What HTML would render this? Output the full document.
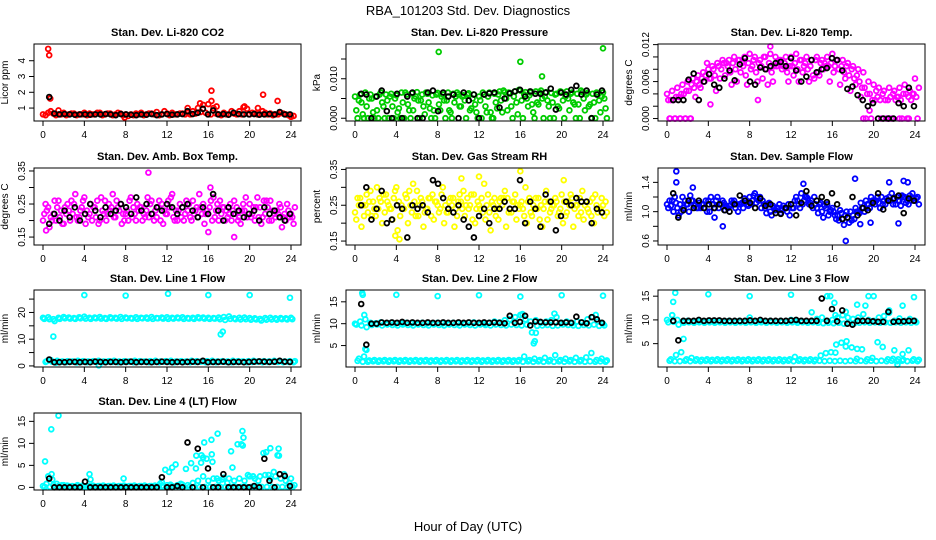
<!DOCTYPE html>
<html><head><meta charset="utf-8"><style>
html,body{margin:0;padding:0;background:#fff;}
svg{display:block;font-family:"Liberation Sans",sans-serif;}
</style></head><body>
<svg id="chart" width="936" height="540" viewBox="0 0 936 540" xmlns="http://www.w3.org/2000/svg">
<text x="468" y="15" text-anchor="middle" font-size="13">RBA_101203  Std. Dev. Diagnostics</text>
<text x="468" y="531" text-anchor="middle" font-size="13">Hour of Day (UTC)</text>
</svg>
<script>
const xTicks=[0,4,8,12,16,20,24];
const co2A=[0.6,0.7,0.65,0.6,0.7,0.6,0.65,0.6,0.7,0.65,0.6,0.7,0.6,0.65,0.6,0.65,0.6,0.6,0.65,0.7,0.6,0.65,0.75,0.6,0.65,0.7,0.6,0.65,0.7,0.8,1.0,1.2,1.25,1.0,0.6,0.7,0.6,0.65,0.8,1.1,0.6,0.65,0.6,0.7,0.65,0.6,0.7,0.6,0.45];
const co2B=[0.55,0.8,0.55,0.6,0.55,0.65,0.55,0.6,0.55,0.6,0.7,0.55,0.65,0.55,0.7,0.55,0.5,0.55,0.6,0.55,0.65,0.6,0.55,0.8,0.55,0.6,0.65,0.6,0.6,0.65,0.75,0.7,0.6,0.65,0.55,0.6,0.8,0.6,0.6,0.95,0.7,0.6,0.8,0.6,0.55,0.6,0.65,0.55,0.5];
const co2OX=[0.5,0.6,0.7,1.5,7.9,14,15.2,16.3,16.3,16.8,19.4,20.8,21.3,22.7,24];
const co2OY=[4.75,4.35,1.6,0.85,0.4,1.0,1.3,2.1,1.45,1.1,1.05,1.0,1.85,1.45,0.45];
const co2K=[1.7,0.65,0.6,0.62,0.6,0.58,0.6,0.6,0.58,0.6,0.6,0.62,0.6,0.55,0.62,0.6,0.58,0.55,0.6,0.58,0.62,0.55,0.6,0.62,0.58,0.6,0.62,0.8,0.62,0.7,0.95,0.6,0.85,0.6,0.62,0.58,0.7,0.62,0.6,0.6,0.62,0.58,0.6,0.62,0.6,0.75,0.6,0.6];

const presA=[0.0055,0.006,0.0065,0.006,0.0055,0.0065,0.006,0.0062,0.0058,0.0065,0.006,0.0063,0.0066,0.006,0.0062,0.0058,0.0064,0.006,0.0065,0.0062,0.006,0.0058,0.0063,0.006,0.0055,0.006,0.0065,0.0062,0.0068,0.0066,0.0064,0.0068,0.007,0.0066,0.0065,0.0068,0.007,0.0066,0.0064,0.0062,0.0066,0.0068,0.0065,0.0062,0.0066,0.0064,0.0062,0.006,0.0065];
const presB=[0.002,0.004,0.003,0.005,0.002,0.004,0.0045,0.003,0.0015,0.004,0.0035,0.002,0.0045,0.003,0.004,0.002,0.0035,0.0045,0.002,0.004,0.003,0.0045,0.002,0.0035,0.0045,0.003,0.0015,0.004,0.0045,0.005,0.003,0.004,0.0045,0.005,0.0035,0.004,0.005,0.0045,0.004,0.003,0.0045,0.005,0.004,0.0035,0.005,0.003,0.004,0.0045,0.005];
const presC=[0,0.001,0,0.0015,0,0.003,0,0,0.0025,0,0.002,0.005,0,0.001,0.0025,0,0.002,0,0.0015,0.0055,0.003,0,0.0025,0.0015,0,0.0015,0,0.0025,0.0015,0.002,0,0.001,0,0.003,0.0015,0.0035,0,0.003,0,0.0025,0,0.002,0.0035,0,0.002,0.0035,0,0.0015,0.0025];
const presD=[0.0045,0,0.005,0,0.006,0,0.0055,0.005,0,0.0065,0,0.0055,0.0045,0.0065,0,0.006,0.0055,0.0045,0,0.0065,0.0055,0.006,0.005,0,0.0065,0.0055,0,0.006,0.007,0.0065,0.0055,0.0072,0.006,0.0058,0,0.0065,0.0055,0,0.006,0.0068,0.0055,0.0062,0,0.007,0.006,0,0.0065,0.0055,0];
const presOX=[8.1,16,18.1,24];
const presOY=[0.0168,0.0143,0.0106,0.0177];
const presK=[0.0062,0.006,0,0.0055,0.007,0.0018,0,0.0062,0,0.0055,0.0065,0,0,0.0065,0.007,0.0018,0.0065,0.0055,0.006,0,0.0065,0.0045,0.006,0,0.006,0.0063,0.0065,0.0027,0.005,0.0063,0.0068,0.0072,0.0055,0.0068,0.0062,0.0062,0.0065,0.0075,0.0022,0.0065,0.006,0.0072,0.0082,0.006,0.007,0,0.006,0.007];

const tempA=[0.004,0.0045,0.005,0.0055,0.006,0.0065,0.007,0.0075,0.008,0.008,0.0085,0.009,0.0095,0.01,0.0095,0.01,0.0105,0.01,0.0095,0.01,0.0105,0.01,0.0095,0.01,0.01,0.0105,0.0095,0.01,0.0095,0.01,0.0095,0.01,0.0105,0.0095,0.0095,0.009,0.0085,0.008,0.0075,0.006,0.0055,0.005,0.0045,0.005,0.0045,0.005,0.0055,0.0045,0.0065];
const tempB=[0.003,0.003,0.0035,0.004,0.0045,0.005,0.0055,0.006,0.0065,0.007,0.0065,0.007,0.0075,0.008,0.0075,0.007,0.008,0.0075,0.0085,0.008,0.0075,0.0085,0.008,0.0075,0.0085,0.008,0.0075,0.008,0.007,0.0075,0.008,0.0085,0.0075,0.008,0.0075,0.007,0.0065,0.006,0.005,0.004,0.003,0.003,0.003,0.0035,0.003,0.003,0.004,0.003,0.0035];
const tempC=[0,0,0,0,0,0.0035,0.005,0.007,0.0065,0.0045,0.008,0.009,0.0055,0.006,0.009,0.0055,0.0085,0.006,0.0065,0.0055,0.006,0.009,0.0085,0.006,0.007,0.006,0.0085,0.006,0.0065,0.007,0.009,0.006,0.0085,0.0055,0.0065,0.0045,0.0055,0.0035,0,0,0.0045,0,0,0,0.0035,0,0,0.004,0];
const tempD=[0.003,0.0035,0.004,0.0045,0.0055,0.006,0.0065,0.009,0.0085,0.009,0.0095,0.0085,0.009,0.0095,0.0085,0.009,0.0095,0.009,0.01,0.009,0.0085,0.0095,0.009,0.0085,0.009,0.0095,0.009,0.0085,0.0095,0.009,0.0085,0.009,0.0095,0.0085,0.0085,0.008,0.007,0.005,0.004,0.003,0.0035,0.004,0.003,0.004,0.0035,0.004,0.0035,0.004,0.005];
const tempOX=[0.3,0.8,1.3,1.8,2.3,4.2,8.8,10,19.6,19,21.5,22.5,23.4];
const tempOY=[0,0,0,0,0,0.0023,0.003,0.0117,0.0013,0,0,0,0];
const tempK=[0.003,0.003,0.003,0.0063,0.0073,0.003,0.006,0.0072,0.0055,0.005,0.0065,0.0078,0.0062,0.0088,0.0098,0.006,0.0055,0.0083,0.008,0.0085,0.009,0.0092,0.0085,0.0098,0.0078,0.006,0.0068,0.0095,0.0075,0.008,0.0082,0.0098,0.0095,0.0078,0.0048,0.0052,0.0038,0.003,0.002,0.0025,0,0,0,0,0.0025,0.002,0.005,0.002];

const ambA=[0.2,0.24,0.22,0.26,0.19,0.23,0.25,0.21,0.27,0.22,0.24,0.2,0.26,0.23,0.21,0.25,0.22,0.27,0.2,0.24,0.23,0.26,0.21,0.25,0.22,0.28,0.2,0.24,0.23,0.26,0.21,0.25,0.22,0.27,0.2,0.24,0.22,0.26,0.21,0.23,0.25,0.2,0.24,0.22,0.26,0.21,0.24,0.2,0.22];
const ambB=[0.22,0.18,0.26,0.21,0.24,0.2,0.28,0.23,0.19,0.25,0.21,0.27,0.2,0.24,0.26,0.19,0.23,0.21,0.25,0.2,0.27,0.22,0.24,0.19,0.26,0.21,0.23,0.2,0.25,0.22,0.28,0.19,0.24,0.21,0.26,0.2,0.25,0.22,0.19,0.27,0.21,0.24,0.19,0.26,0.2,0.23,0.18,0.25,0.21];
const ambC=[0.25,0.21,0.2,0.23,0.22,0.26,0.21,0.24,0.23,0.2,0.26,0.23,0.22,0.28,0.24,0.22,0.2,0.24,0.23,0.22,0.21,0.2,0.26,0.23,0.24,0.2,0.25,0.22,0.21,0.23,0.24,0.22,0.26,0.23,0.22,0.23,0.2,0.24,0.23,0.21,0.22,0.27,0.21,0.24,0.23,0.22,0.21,0.23,0.19];
const ambD=[0.23,0.2,0.24,0.19,0.25,0.22,0.2,0.26,0.21,0.24,0.19,0.22,0.25,0.21,0.23,0.2,0.26,0.22,0.24,0.21,0.25,0.23,0.2,0.22,0.27,0.23,0.21,0.26,0.2,0.24,0.22,0.23,0.2,0.25,0.24,0.21,0.23,0.2,0.25,0.22,0.24,0.21,0.26,0.2,0.22,0.25,0.22,0.21,0.24];
const ambOX=[10.2,16.2,0.3,16,18.5];
const ambOY=[0.345,0.3,0.17,0.165,0.15];
const ambK=[0.19,0.22,0.2,0.23,0.21,0.24,0.2,0.22,0.25,0.23,0.21,0.24,0.22,0.23,0.25,0.24,0.22,0.27,0.23,0.25,0.22,0.24,0.23,0.25,0.24,0.22,0.24,0.25,0.23,0.21,0.24,0.22,0.28,0.23,0.2,0.24,0.22,0.23,0.21,0.22,0.23,0.2,0.24,0.22,0.23,0.21,0.2,0.22];

const rhA=[0.23,0.27,0.25,0.29,0.22,0.26,0.28,0.24,0.3,0.25,0.27,0.23,0.29,0.26,0.24,0.28,0.25,0.3,0.23,0.27,0.26,0.29,0.24,0.28,0.25,0.31,0.23,0.27,0.26,0.29,0.24,0.28,0.25,0.3,0.23,0.27,0.25,0.29,0.24,0.26,0.28,0.23,0.27,0.25,0.29,0.24,0.27,0.23,0.25];
const rhB=[0.21,0.19,0.28,0.22,0.3,0.2,0.26,0.21,0.18,0.24,0.2,0.31,0.22,0.19,0.27,0.21,0.23,0.2,0.26,0.19,0.28,0.22,0.25,0.2,0.24,0.21,0.18,0.22,0.27,0.19,0.23,0.21,0.26,0.2,0.22,0.24,0.19,0.21,0.25,0.22,0.2,0.26,0.19,0.22,0.21,0.23,0.2,0.24,0.22];
const rhC=[0.27,0.25,0.23,0.26,0.24,0.28,0.25,0.27,0.26,0.24,0.29,0.26,0.25,0.23,0.27,0.26,0.24,0.25,0.27,0.24,0.26,0.25,0.28,0.24,0.27,0.25,0.26,0.24,0.25,0.27,0.26,0.25,0.24,0.26,0.25,0.27,0.24,0.26,0.25,0.23,0.26,0.25,0.24,0.27,0.25,0.26,0.28,0.24,0.26];
const rhD=[0.25,0.22,0.26,0.24,0.27,0.23,0.24,0.29,0.22,0.28,0.25,0.22,0.27,0.24,0.22,0.26,0.28,0.23,0.25,0.22,0.24,0.27,0.21,0.26,0.23,0.28,0.25,0.21,0.27,0.23,0.26,0.24,0.22,0.27,0.24,0.21,0.26,0.23,0.27,0.24,0.22,0.28,0.25,0.23,0.26,0.22,0.25,0.27,0.23];
const rhOX=[16,4.3,3.9,20.2,10.3,12];
const rhOY=[0.345,0.155,0.165,0.32,0.325,0.33];
const rhK=[0.25,0.3,0.21,0.24,0.29,0.2,0.21,0.25,0.24,0.16,0.25,0.24,0.25,0.23,0.32,0.31,0.27,0.24,0.23,0.25,0.21,0.19,0.16,0.22,0.24,0.2,0.24,0.24,0.26,0.24,0.24,0.32,0.2,0.26,0.24,0.19,0.28,0.26,0.18,0.22,0.26,0.25,0.27,0.26,0.26,0.2,0.24,0.23];

const sfA=[1.1,1.15,1.05,1.2,1.1,1.15,1.05,1.1,1.15,1.1,1.05,1.12,1.08,1.15,1.1,1.18,1.2,1.25,1.2,1.05,1.0,1.02,0.98,1.05,1.1,1.2,1.25,1.2,1.15,1.05,1.0,1.1,1.05,0.95,0.9,0.92,0.95,1.0,1.05,1.1,1.15,1.12,1.15,1.2,1.18,1.15,1.2,1.22,1.15];
const sfB=[1.05,1.0,0.95,1.05,1.0,1.08,1.12,1.05,1.0,1.05,1.1,1.02,1.08,1.05,1.1,1.15,1.1,1.12,1.05,0.98,0.95,1.05,1.02,1.0,1.05,1.15,1.1,1.18,1.05,0.98,0.92,0.95,1.0,0.88,0.82,0.85,0.9,0.98,1.0,1.05,1.1,1.05,1.1,1.15,1.1,1.08,1.12,1.15,1.18];
const sfC=[1.15,1.2,1.1,1.15,1.22,1.1,1.05,1.15,1.2,1.15,1.1,1.08,1.15,1.1,1.12,1.1,1.15,1.2,1.15,1.1,1.08,1.05,1.08,1.1,1.05,1.1,1.15,1.1,1.2,1.1,1.08,1.0,0.95,1.02,0.95,1.0,1.05,1.12,1.15,1.2,1.15,1.2,1.18,1.25,1.2,1.22,1.15,1.25,1.2];
const sfD=[1.08,1.12,1.0,1.1,1.15,1.05,1.1,1.0,1.1,1.2,1.15,1.05,1.12,1.0,1.05,1.08,1.22,1.15,1.1,1.12,1.05,1.1,1.05,0.95,1.15,1.05,1.2,1.12,1.1,1.12,1.05,1.02,0.9,0.98,1.0,0.88,1.0,1.05,1.1,1.15,1.2,1.1,1.15,1.1,1.15,1.2,1.1,1.18,1.1];
const sfOX=[0.9,0.9,2.5,5.4,4.6,17.3,18.2,18.7,19.7,21.5,22.4,22.9,23.3,13.2];
const sfOY=[1.55,1.4,1.33,0.8,0.92,0.6,1.45,0.83,0.85,1.4,0.84,1.42,1.4,1.38];
const sfK=[1.25,0.92,1.02,1.15,1.05,1.15,1.05,1.1,1.05,1.1,1.02,1.0,1.1,1.22,1.15,1.12,1.05,1.18,1.08,1.1,0.98,0.97,1.05,1.1,0.95,1.12,1.28,1.08,1.15,1.2,1.13,1.25,1.1,0.9,0.92,1.2,0.95,1.05,1.02,1.12,1.25,1.03,1.15,1.18,1.22,0.98,1.18,1.15];

const l1A=[18,18.2,17.5,18,18.3,18.1,17.9,18.2,18.4,18,18.1,18.3,17.9,18.2,18,18.3,18.1,17.9,18.2,18,18.1,18.3,17.9,18.1,18.2,18,18.1,18.2,17.9,18,18.2,18.1,18,17.9,18.1,18.3,18.5,17.8,18,18.1,17.9,17.8,17.6,17.9,18,17.8,17.9,17.8,18];
const l1B=[17.6,17.5,16.8,17.6,17.8,17.7,17.6,17.8,17.7,17.6,17.8,17.7,17.6,17.8,17.7,17.6,17.8,17.7,17.6,17.8,17.7,17.6,17.8,17.7,17.6,17.7,17.8,17.6,17.7,17.6,17.8,17.7,17.6,17.7,17.5,17.2,17.6,17.5,17.4,17.5,17.3,17.4,17,17.3,17.4,17.3,17.5,17.4,17.5];
const l1C=[1.5,2.2,1.2,1.5,1.4,1.6,1.3,1.5,1.4,1.6,1.5,1.4,1.6,1.5,1.4,1.5,1.6,1.4,1.5,1.6,1.4,1.5,1.4,1.6,1.5,1.4,1.6,1.5,1.4,1.5,1.6,1.4,1.5,1.4,1.6,1.5,1.4,1.5,1.6,1.4,1.5,1.6,1.4,1.5,1.6,1.5,1.4,1.5,1.4];
const l1D=[1.8,1.6,1.9,1.7,1.8,1.7,1.9,1.8,1.7,1.8,1.9,1.7,1.8,1.9,1.7,1.8,1.7,1.9,1.8,1.7,1.8,1.9,1.7,1.8,1.9,1.7,1.8,1.7,1.9,1.8,1.7,1.8,1.9,1.7,1.8,1.7,1.9,1.8,1.7,1.8,1.9,1.7,1.8,1.7,1.9,1.8,1.7,1.8,1.8];
const l1OX=[4,8,12.1,16,20,23.9,1,17.2,17.4,5.4];
const l1OY=[26.5,26.3,27,26.5,26.5,25.5,11,11.8,12.8,0.2];
const l1K=[2.4,1.4,1.4,1.4,1.5,1.5,1.4,1.5,1.4,1.6,1.5,1.4,1.5,1.5,1.4,1.5,1.6,1.4,1.5,1.5,1.4,1.5,1.6,1.5,1.4,1.5,1.4,1.5,1.6,1.5,1.9,1.4,1.5,1.5,1.6,1.4,1.5,1.5,1.4,1.5,1.6,1.7,1.6,1.5,1.6,1.9,1.6,1.5];

const l2A=[10,10.5,11,10.2,10.1,10.3,10,10.2,10.1,10,10.2,10.1,10,10.2,10.1,10,10.2,10.1,10,10.2,10.1,10,10.2,10.3,10.1,10,10.2,10.5,10.3,10.8,11,11.5,12,11,10.5,10.8,10.2,10.5,10.8,11.5,10.2,10.5,10.1,10.5,10.3,11,11.5,10.5,10];
const l2B=[9.8,9.6,9.2,9.7,9.8,9.6,9.8,9.7,9.6,9.8,9.7,9.6,9.8,9.7,9.6,9.8,9.7,9.6,9.8,9.7,9.6,9.8,9.7,9.6,9.8,9.7,9.6,9.8,9.7,9.6,9.8,9.7,9.6,9.8,8,9.5,9.6,9.7,9.5,9.6,9.8,9.7,9.6,9.5,9.7,9.6,9.8,9.5,9.6];
const l2C=[1.5,1.3,1.3,1.4,1.3,1.4,1.3,1.4,1.3,1.4,1.3,1.4,1.3,1.4,1.3,1.4,1.3,1.4,1.3,1.4,1.3,1.4,1.3,1.4,1.3,1.4,1.3,1.4,1.3,1.4,1.3,1.4,1.3,1.4,1.3,1.4,1.3,1.4,1.3,1.4,1.3,1.4,1.3,1.4,1.3,1.4,1.3,1.4,1.3];
const l2D=[2,2.5,1.6,1.7,1.6,1.7,1.6,1.7,1.6,1.7,1.6,1.7,1.6,1.7,1.6,1.7,1.6,1.7,1.6,1.7,1.6,1.7,1.6,1.7,1.6,1.7,1.6,1.7,1.6,1.7,1.6,1.7,2.5,1.7,2,1.7,2.2,1.7,2.8,1.7,2,1.7,2.2,1.7,2.3,3.3,1.7,2,1.6];
const l2OX=[4,8,12,16,20,24,0.7,0.75,0.9,1,1.1,17.3,17.4,17.5,19.3,16.2,23.3];
const l2OY=[16.6,16.3,16.5,16.2,16.5,16.4,17,16.6,12,4.2,4,5.5,6,7.9,12.3,12.2,12];
const l2K=[14.5,5.2,10,10,10.3,10.2,10.3,10.2,10.4,10.2,10.3,10.2,10.2,10.3,10.2,10.2,10.3,10.2,10.2,10.3,10.2,10.3,10.2,10.2,10.3,10.2,10.3,10.2,10.1,11.8,10.2,10.4,11.8,9.6,10.5,10.4,10.3,10.3,10.3,10.2,10.3,10.2,11.6,10.3,10.1,11.5,11,10.2];

const l3A=[10,11,10,9.6,9.8,9.6,9.8,9.7,9.8,9.7,9.8,9.7,9.8,9.7,9.8,9.7,10.5,9.7,9.8,9.7,9.8,9.7,9.8,9.7,10,9.7,9.8,9.7,9.8,10.2,10.5,9.8,10,10.5,11,10.5,10.2,10.5,11.2,10,9.8,10.5,10.8,11.5,9.8,10.3,9.8,10.2,9.8];
const l3B=[9.5,9.6,9,9.4,9.5,9.4,9.5,9.4,9.5,9.4,9.5,9.4,9.5,9.4,9.5,9.4,9.5,9.4,9.5,9.4,9.5,9.4,9.5,9.4,9.5,9.4,9.5,9.4,9.5,9.4,9.3,9.4,9.3,9.4,9.2,9.4,9.3,9.4,9.5,9.4,9.5,9.4,9.5,9.4,9.5,9.4,9.5,9.4,9.5];
const l3C=[1.4,1.3,1.3,1.4,1.3,1.4,1.3,1.4,1.3,1.4,1.3,1.4,1.3,1.4,1.3,1.4,1.3,1.4,1.3,1.4,1.3,1.4,1.3,1.4,1.3,1.4,1.3,1.4,1.3,1.4,1.3,1.4,1.3,1.4,1.3,1.4,1.3,1.4,1.3,1.4,1.3,1.4,1.3,1.4,1.3,1.4,1.3,1.4,1.3];
const l3D=[1.7,2.6,3.2,1.7,2,1.7,1.6,1.7,1.6,1.7,1.6,1.7,1.6,1.7,1.6,1.7,1.6,1.7,1.6,1.7,1.6,1.7,1.6,1.7,2.2,1.7,1.6,1.7,1.6,2.5,3,3.2,4.8,5.2,5.5,4.2,1.8,3.8,1.7,2,5.3,4.3,1.7,1.8,1.7,1.6,3.6,1.7,1.6];
const l3OX=[0.5,0.6,0.8,1.6,4,8,12,14,15.5,15.8,16.2,16.3,17.3,18.4,19.2,19.5,20,21.5,22.8,23.9,22.3,16.3,17.3,18.4,22,22.8];
const l3OY=[11,13.8,15.7,6,15.4,15,15.3,11.6,15,15,13.6,11,11.7,13.2,13,15,15,12,13,14.8,0.6,3.1,4.4,3.9,3.6,2.8];
const l3K=[9.8,5.7,9.8,9.8,9.8,10,9.8,9.9,9.9,9.9,9.8,9.8,9.8,9.8,9.8,9.9,9.8,10,9.8,9.8,9.8,9.8,9.8,9.9,10,9.8,9.8,9.8,9.8,14.5,9.8,12.3,9.7,12,9.2,9,9.8,9.8,9.8,9.7,9.6,9.6,11.7,9.6,9.7,9.7,9.8,9.8];

const l4A=[0.3,2.5,0.5,0.3,0.5,0.3,0.2,0.3,0.2,0.3,0.2,0.3,0.2,0.3,0.2,0.3,0.2,0.3,0.2,0.3,0.2,0.3,0.2,0.3,0.5,0.3,0.5,0.6,0.5,1,1.5,2.5,1.5,2,1.5,2.2,2,1.5,2,1.5,2.5,2,2.5,2.8,2,2.5,2,1.5,2];
const l4B=[0.1,0.1,0.1,0.1,0.1,0.1,0.1,0.1,0.1,0.1,0.1,0.1,0.1,0.1,0.1,0.1,0.1,0.1,0.1,0.1,0.1,0.1,0.1,0.1,0.1,0.1,0.1,0.1,0.1,0.1,0.1,0.1,0.1,0.1,0.1,0.1,0.1,0.1,0.1,0.1,0.1,0.1,0.1,0.1,0.1,0.1,0.1,0.1,0.1];
const l4C=[0.8,3,0.8,0.5,0.4,0.3,0.5,0.4,0.3,0.4,0.3,0.4,0.3,0.4,0.3,0.4,0.3,0.4,0.3,0.4,0.3,0.4,0.8,4,0.6,5.2,0.8,4.2,5.5,7.2,7.3,6.5,7.5,2,1.8,1,4.5,9.8,9.5,2.8,2.5,1.5,7.8,2.8,3.5,7.2,3,1,0.5];
const l4OX=[0.2,0.8,1.5,0.9,4.5,4.6,7.8,11.5,12.2,12.5,14.8,15.6,16.3,16.4,16.9,18.2,19.3,19.4,19.2,21.6,22,22.8,22.7,15.3,15.5];
const l4OY=[5.9,13.2,16.3,1.8,3,1.8,2,1.2,3.5,4.5,4.3,10.2,10.8,5.8,12.2,8.2,12.8,11.3,9.8,8,8.9,8.8,7.3,5.6,6.8];
const l4K=[2,0,0,0,0,0,0,1.3,0,0,0,0,0,0,0,0,0,0,0,0,0,0,2.3,0,0,0.3,0,10.2,0,8.8,0,4.3,0,0,3,0,0,0,0,0,0.3,0,6.5,1.5,0,3,2.6,0.3];

const panels=[
 {name:'co2',title:'Stan. Dev. Li-820 CO2',ylab:'Licor ppm',col:0,row:0,dom:[0.18,5.06],ticks:[1,2,3,4],labels:['1','2','3','4'],color:'#ff0000',series:[co2A,co2B],ox:co2OX,oy:co2OY,k:co2K},
 {name:'pressure',title:'Stan. Dev. Li-820 Pressure',ylab:'kPa',col:1,row:0,dom:[-0.0007,0.0188],ticks:[0,0.005,0.01,0.015],labels:['0.000','','0.010',''],color:'#00cc00',series:[presA,presB,presC,presD],ox:presOX,oy:presOY,k:presK},
 {name:'temp',title:'Stan. Dev. Li-820 Temp.',ylab:'degrees C',col:2,row:0,dom:[-0.0004,0.0121],ticks:[0,0.002,0.004,0.006,0.008,0.01,0.012],labels:['0.000','','','0.006','','','0.012'],color:'#ff00ff',series:[tempA,tempB,tempC,tempD],ox:tempOX,oy:tempOY,k:tempK},
 {name:'amb-box-temp',title:'Stan. Dev. Amb. Box Temp.',ylab:'degrees C',col:0,row:1,dom:[0.126,0.359],ticks:[0.15,0.2,0.25,0.3,0.35],labels:['0.15','','0.25','','0.35'],color:'#ff00ff',series:[ambA,ambB,ambC,ambD],ox:ambOX,oy:ambOY,k:ambK},
 {name:'gas-rh',title:'Stan. Dev. Gas Stream RH',ylab:'percent',col:1,row:1,dom:[0.139,0.354],ticks:[0.15,0.2,0.25,0.3,0.35],labels:['0.15','','0.25','','0.35'],color:'#ffff00',series:[rhA,rhB,rhC,rhD],ox:rhOX,oy:rhOY,k:rhK},
 {name:'sample-flow',title:'Stan. Dev. Sample Flow',ylab:'ml/min',col:2,row:1,dom:[0.545,1.596],ticks:[0.6,0.8,1.0,1.2,1.4],labels:['0.6','','1.0','','1.4'],color:'#0000ff',series:[sfA,sfB,sfC,sfD],ox:sfOX,oy:sfOY,k:sfK},
 {name:'line1-flow',title:'Stan. Dev. Line 1 Flow',ylab:'ml/min',col:0,row:2,dom:[-0.4,28.4],ticks:[0,5,10,15,20,25],labels:['0','','10','','20',''],color:'#00ffff',series:[l1A,l1B,l1C,l1D],ox:l1OX,oy:l1OY,k:l1K},
 {name:'line2-flow',title:'Stan. Dev. Line 2 Flow',ylab:'ml/min',col:1,row:2,dom:[0.1,17.7],ticks:[5,10,15],labels:['5','10','15'],color:'#00ffff',series:[l2A,l2B,l2C,l2D],ox:l2OX,oy:l2OY,k:l2K},
 {name:'line3-flow',title:'Stan. Dev. Line 3 Flow',ylab:'ml/min',col:2,row:2,dom:[0.08,16.3],ticks:[5,10,15],labels:['5','10','15'],color:'#00ffff',series:[l3A,l3B,l3C,l3D],ox:l3OX,oy:l3OY,k:l3K},
 {name:'line4-flow',title:'Stan. Dev. Line 4 (LT) Flow',ylab:'ml/min',col:0,row:3,dom:[-0.6,16.9],ticks:[0,5,10,15],labels:['0','5','10','15'],color:'#00ffff',series:[l4A,l4B,l4C],ox:l4OX,oy:l4OY,k:l4K}
];
const NS='http://www.w3.org/2000/svg';
const svg=document.getElementById('chart');
const colLeft=[34,346,658], rowTop=[44,168,290,413], W=267, H=77;
function mk(tag,attrs,parent){const e=document.createElementNS(NS,tag);for(const k in attrs)e.setAttribute(k,attrs[k]);parent.appendChild(e);return e;}
panels.forEach(p=>{
  const L=colLeft[p.col], T=rowTop[p.row], B=T+H;
  const g=mk('g',{},svg);
  
  
  const xs=h=>L+9+h*(248/24);
  const ys=v=>B-(v-p.dom[0])/(p.dom[1]-p.dom[0])*H;
  const t=mk('text',{x:L+W/2,y:T-8,'text-anchor':'middle','font-size':'11','font-weight':'bold'},g);
  t.textContent=p.title;
  
  
  const yl=mk('text',{transform:`translate(${L-26},${T+H/2}) rotate(-90)`,'text-anchor':'middle','font-size':'10'},g);
  yl.textContent=p.ylab;
  
  
  const pts=mk('g',{fill:'none','stroke-width':'1.8'},g);
  
  
  const n=p.series.length;
  p.series.forEach((arr,si)=>{
    arr.forEach((v,i)=>{
      const c=mk('circle',{cx:xs(i*0.5+si*0.5/n),cy:ys(v),r:2.4,stroke:p.color},pts);
      
      
    });
  });
  p.ox.forEach((h,i)=>{
    const c=mk('circle',{cx:xs(h),cy:ys(p.oy[i]),r:2.4,stroke:p.color},pts);
    
    
  });
  p.k.forEach((v,i)=>{
    const c=mk('circle',{cx:xs(0.6+i*23.3/(p.k.length-1)),cy:ys(v),r:2.4,stroke:'#000'},pts);
    
    
  });
  const box=mk('rect',{x:L,y:T,width:W,height:H,fill:'none',stroke:'#000','stroke-width':'1'},g);
  
  
  xTicks.forEach(h=>{
    mk('line',{x1:xs(h),x2:xs(h),y1:B,y2:B+5,stroke:'#000'},g);
    const tl=mk('text',{x:xs(h),y:B+17,'text-anchor':'middle','font-size':'10'},g);
    tl.textContent=String(h);
    
    
  });
  p.ticks.forEach((v,i)=>{
    const y=ys(v);
    mk('line',{x1:L-5,x2:L,y1:y,y2:y,stroke:'#000'},g);
    if(p.labels[i]){
      const tl=mk('text',{transform:`translate(${L-9},${y}) rotate(-90)`,'text-anchor':'middle','font-size':'10'},g);
      tl.textContent=p.labels[i];
      
      
    }
  });
});
</script>
</body></html>
